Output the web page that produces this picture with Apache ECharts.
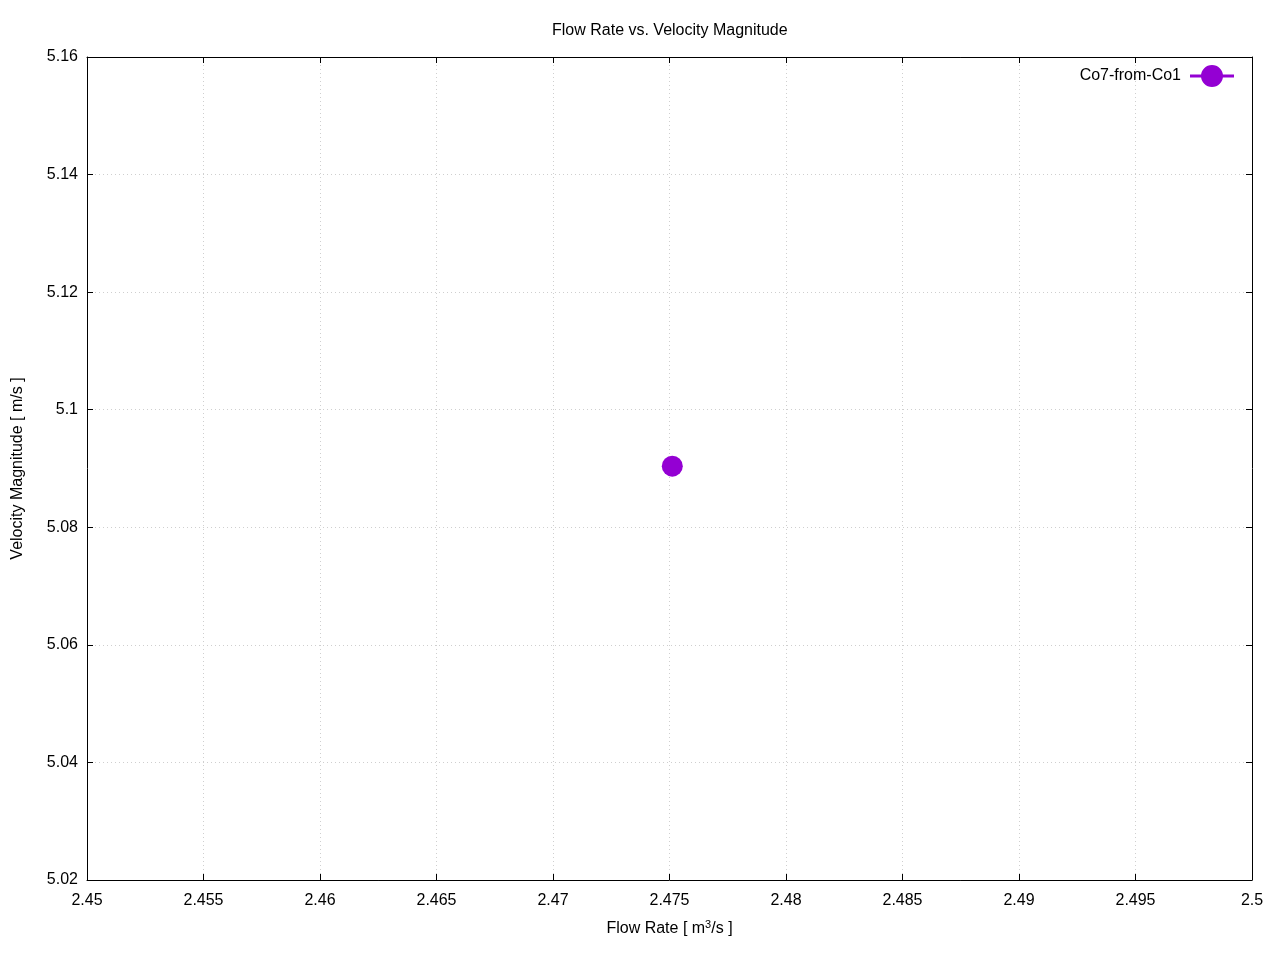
<!DOCTYPE html>
<html><head><meta charset="utf-8">
<script src="https://cdn.jsdelivr.net/npm/echarts@6/dist/echarts.min.js"></script>
<style>html,body{margin:0;padding:0;background:#fff}#c{width:1280px;height:960px}</style>
</head><body><div id="c"></div>
<script>
const seriesName = 'Co7-from-Co1';
const flowRate = [2.47512];
const velocity = [5.0904];
const xRange = [2.45, 2.5, 0.005];
const yRange = [5.02, 5.16, 0.02];
const titleText = 'Flow Rate vs. Velocity Magnitude';

const font = 'Liberation Sans, Arial, sans-serif';
const fmt = (d) => (v) => String(parseFloat(v.toFixed(d)));
const gridLine = {show: true, lineStyle: {color: '#cfcfcf', type: [1, 3], width: 1}};
const chart = echarts.init(document.getElementById('c'));
chart.setOption({
  backgroundColor: '#fff',
  animation: false,
  textStyle: {fontFamily: font},
  title: {text: titleText, left: 547, top: 18, textStyle: {fontSize: 16, fontWeight: 'normal', color: '#000', fontFamily: font}},
  legend: {
    right: 41, top: 60, align: 'right', itemWidth: 44, itemHeight: 22, itemGap: 8,
    textStyle: {fontSize: 16, color: '#000', fontFamily: font, padding: [0, 4, 0, 0]},
    data: [{name: seriesName, icon: 'path://M0,9.5 L14,9.5 L14,12.5 L0,12.5 Z M30,9.5 L44,9.5 L44,12.5 L30,12.5 Z M22,0 A11,11 0 1 1 21.99,0 Z'}]
  },
  grid: {left: 87, right: 28, top: 57, bottom: 80, outerBoundsMode: 'none', containLabel: false},
  xAxis: [{
    type: 'value', min: xRange[0], max: xRange[1], interval: xRange[2],
    name: '{n|Flow Rate [ m}{s|3}{n|/s ]}', nameLocation: 'middle', nameGap: 39,
    nameTextStyle: {rich: {n: {fontSize: 16, color: '#000', fontFamily: font}, s: {fontSize: 11, color: '#000', fontFamily: font, verticalAlign: 'top', padding: [0, 0, 9, 0]}}},
    axisLine: {onZero: false, lineStyle: {color: '#000', width: 1}},
    axisTick: {inside: true, length: 6, lineStyle: {color: '#000'}},
    axisLabel: {fontSize: 16, color: '#000', margin: 13, formatter: fmt(3), fontFamily: font},
    splitLine: gridLine
  }, {
    type: 'value', position: 'top', min: xRange[0], max: xRange[1], interval: xRange[2],
    axisLine: {onZero: false, lineStyle: {color: '#000', width: 1}},
    axisTick: {inside: true, length: 6, lineStyle: {color: '#000'}},
    axisLabel: {show: false}, splitLine: {show: false}
  }],
  yAxis: [{
    type: 'value', min: yRange[0], max: yRange[1], interval: yRange[2],
    name: 'Velocity Magnitude [ m/s ]', nameLocation: 'middle', nameGap: 61, nameRotate: 90,
    nameTextStyle: {fontSize: 16, color: '#000', fontFamily: font},
    axisLine: {onZero: false, lineStyle: {color: '#000', width: 1}},
    axisTick: {inside: true, length: 6, lineStyle: {color: '#000'}},
    axisLabel: {fontSize: 16, color: '#000', margin: 9, formatter: fmt(2), fontFamily: font},
    splitLine: gridLine
  }, {
    type: 'value', position: 'right', min: yRange[0], max: yRange[1], interval: yRange[2],
    axisLine: {onZero: false, lineStyle: {color: '#000', width: 1}},
    axisTick: {inside: true, length: 6, lineStyle: {color: '#000'}},
    axisLabel: {show: false}, splitLine: {show: false}
  }],
  series: [{
    name: seriesName, type: 'line', symbol: 'circle', symbolSize: 21, showSymbol: true,
    itemStyle: {color: '#9400D3'}, lineStyle: {color: '#9400D3', width: 2},
    data: flowRate.map((x, i) => [x, velocity[i]])
  }]
});
</script></body></html>
